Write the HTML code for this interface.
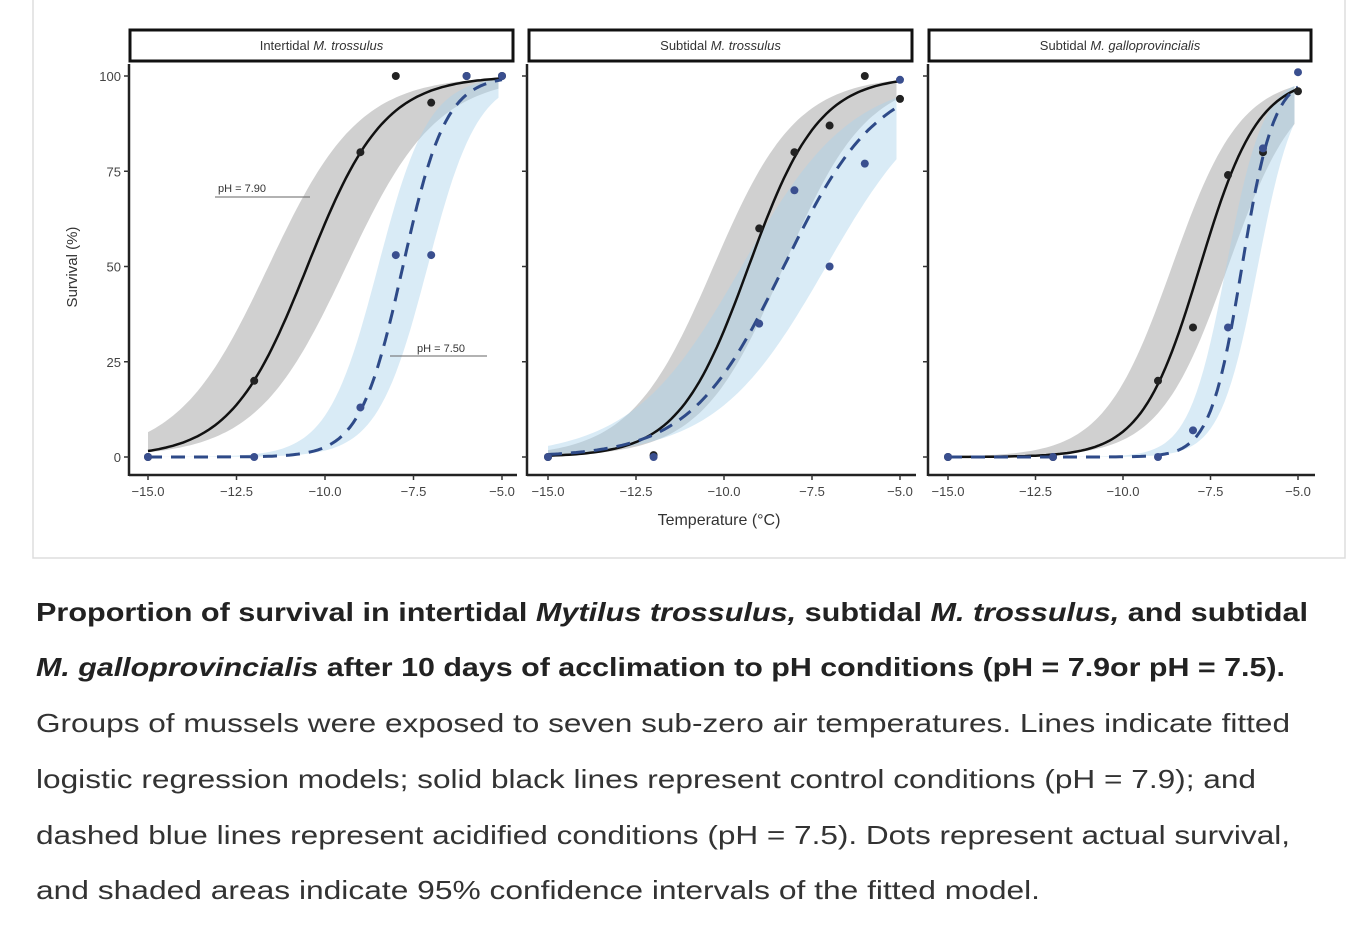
<!DOCTYPE html>
<html><head><meta charset="utf-8"><style>
body{margin:0;background:#fff;width:1370px;height:930px;overflow:hidden;font-family:"Liberation Sans",sans-serif}
</style></head><body>
<svg id="s" width="1370" height="930" style="position:absolute;left:0;top:0" xmlns="http://www.w3.org/2000/svg">
<rect x="33" y="-5" width="1312" height="563" fill="none" stroke="#ddd" stroke-width="1.5"/>
<g font-family="Liberation Sans, sans-serif" font-size="26" fill="#333">
<text x="36" y="621" textLength="1272" lengthAdjust="spacingAndGlyphs" font-weight="bold" fill="#222">Proportion of survival in intertidal <tspan font-style="italic">Mytilus trossulus,</tspan> subtidal <tspan font-style="italic">M. trossulus,</tspan> and subtidal</text>
<text x="36" y="676" textLength="1249" lengthAdjust="spacingAndGlyphs" font-weight="bold" fill="#222"><tspan font-style="italic">M. galloprovincialis</tspan> after 10 days of acclimation to pH conditions (pH = 7.9or pH = 7.5).</text>
<text x="36" y="732" textLength="1254" lengthAdjust="spacingAndGlyphs">Groups of mussels were exposed to seven sub-zero air temperatures. Lines indicate fitted</text>
<text x="36" y="788" textLength="1220" lengthAdjust="spacingAndGlyphs">logistic regression models; solid black lines represent control conditions (pH = 7.9); and</text>
<text x="36" y="844" textLength="1254" lengthAdjust="spacingAndGlyphs">dashed blue lines represent acidified conditions (pH = 7.5). Dots represent actual survival,</text>
<text x="36" y="899" textLength="1004" lengthAdjust="spacingAndGlyphs">and shaded areas indicate 95% confidence intervals of the fitted model.</text>
</g>
</svg>
<script>
var s=document.getElementById('s'),h='';
function L(x,m,k){return 100/(1+Math.exp(-k*(x-m)));}
var panels=[
 {x0:148,x1:502,sx:130,sx2:513,ax:129,title:'Intertidal <tspan font-style="italic">M. trossulus</tspan>',
  b:[-10.5,0.92,1.1],u:[-7.8,1.65,0.7],
  bp:[[-15,0],[-12,20],[-9,80],[-8,100],[-7,93],[-6,100],[-5,100]],
  up:[[-15,0],[-12,0],[-9,13],[-8,53],[-7,53],[-6,100],[-5,100]],yl:true},
 {x0:548,x1:900,sx:529,sx2:912,ax:527,title:'Subtidal <tspan font-style="italic">M. trossulus</tspan>',
  b:[-9.3,1.0,1.0],u:[-8.3,0.75,1.2],
  bp:[[-15,0],[-12,0.5],[-9,60],[-8,80],[-7,87],[-6,100],[-5,94]],
  up:[[-15,0],[-12,0],[-9,35],[-8,70],[-7,50],[-6,77],[-5,99]]},
 {x0:948,x1:1298,sx:929,sx2:1311,ax:928,title:'Subtidal <tspan font-style="italic">M. galloprovincialis</tspan>',
  b:[-7.8,1.2,0.8],u:[-6.6,2.2,0.45],
  bp:[[-15,0],[-12,0],[-9,20],[-8,34],[-7,74],[-6,80],[-5,96]],
  up:[[-15,0],[-12,0],[-9,0],[-8,7],[-7,34],[-6,81],[-5,101]]}
];
function Y(v){return 457-v*3.81;}
panels.forEach(function(p){
 function X(t){return p.x0+(t+15)*(p.x1-p.x0)/10;}
 function band(c,col){var up=[],lo=[];for(var t=-15;t<=-5.001;t+=0.1){up.push(X(t).toFixed(1)+','+Y(L(t,c[0]-c[2],c[1]*0.85)).toFixed(1));lo.push(X(t).toFixed(1)+','+Y(L(t,c[0]+c[2],c[1]*0.85)).toFixed(1));}
  return '<polygon points="'+up.join(' ')+' '+lo.reverse().join(' ')+'" fill="'+col+'"/>';}
 function line(c,st){var a=[];for(var t=-15;t<=-4.999;t+=0.1)a.push(X(t).toFixed(1)+','+Y(L(t,c[0],c[1])).toFixed(1));return '<polyline points="'+a.join(' ')+'" fill="none" '+st+'/>';}
 h+='<rect x="'+p.sx+'" y="30" width="'+(p.sx2-p.sx)+'" height="31" fill="#fff" stroke="#111" stroke-width="3"/>';
 h+='<text x="'+((p.sx+p.sx2)/2)+'" y="50" font-size="13" text-anchor="middle" fill="#333">'+p.title+'</text>';
 h+=band(p.b,'rgba(170,170,170,0.55)')+band(p.u,'rgba(170,210,235,0.45)');
 h+=line(p.b,'stroke="#111" stroke-width="2.5"')+line(p.u,'stroke="#2e4a88" stroke-width="3" stroke-dasharray="14,9"');
 p.bp.forEach(function(q){h+='<circle cx="'+X(q[0])+'" cy="'+Y(q[1])+'" r="4" fill="#222"/>';});
 p.up.forEach(function(q){h+='<circle cx="'+X(q[0])+'" cy="'+Y(q[1])+'" r="4" fill="#3a4f8f"/>';});
 h+='<line x1="'+p.ax+'" y1="64" x2="'+p.ax+'" y2="476" stroke="#222" stroke-width="2.5"/>';
 h+='<line x1="'+p.ax+'" y1="475" x2="'+(p.sx2+4)+'" y2="475" stroke="#222" stroke-width="2.5"/>';
 [0,25,50,75,100].forEach(function(v){h+='<line x1="'+(p.ax-5)+'" y1="'+Y(v)+'" x2="'+p.ax+'" y2="'+Y(v)+'" stroke="#333" stroke-width="1.5"/>';
  if(p.yl)h+='<text x="'+(p.ax-8)+'" y="'+(Y(v)+5)+'" font-size="13" text-anchor="end" fill="#444">'+v+'</text>';});
 [-15,-12.5,-10,-7.5,-5].forEach(function(t){h+='<line x1="'+X(t)+'" y1="475" x2="'+X(t)+'" y2="480" stroke="#333" stroke-width="1.5"/>';
  h+='<text x="'+X(t)+'" y="496" font-size="13" text-anchor="middle" fill="#444">\u2212'+Math.abs(t).toFixed(1)+'</text>';});
});
h+='<text x="77" y="267" font-size="15" fill="#333" text-anchor="middle" transform="rotate(-90 77 267)">Survival (%)</text>';
h+='<text x="719" y="525" font-size="16" fill="#333" text-anchor="middle">Temperature (°C)</text>';
h+='<text x="218" y="192" font-size="11" fill="#333">pH = 7.90</text><line x1="215" y1="197" x2="310" y2="197" stroke="#666"/>';
h+='<text x="417" y="352" font-size="11" fill="#333">pH = 7.50</text><line x1="390" y1="356" x2="487" y2="356" stroke="#666"/>';
s.insertAdjacentHTML('beforeend',h);
</script>
</body></html>
